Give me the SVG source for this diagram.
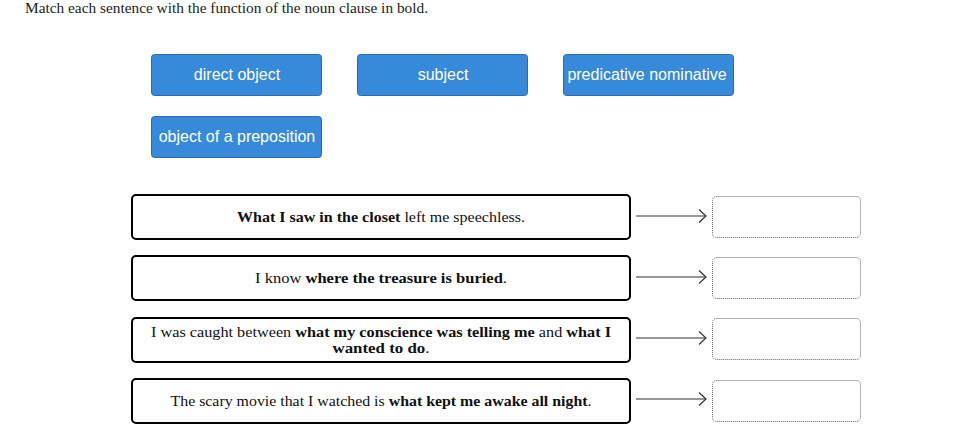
<svg xmlns="http://www.w3.org/2000/svg" width="965" height="436" viewBox="0 0 965 436">
<style>
.title{font-family:"Liberation Serif","DejaVu Serif",serif;font-size:15px;fill:#222}
.btn rect{fill:#368ad9;stroke:#2b6cb0;stroke-width:1}
.btn text{font-family:"Liberation Sans",Arial,sans-serif;font-size:16px;fill:#fff;text-anchor:middle}
.sent rect{fill:#fff;stroke:#000;stroke-width:2}
.sent text{font-family:"Liberation Serif","DejaVu Serif",serif;font-size:15.5px;fill:#111;text-anchor:middle}
.b{font-weight:bold}
.drop rect{fill:#fff;stroke:#666;stroke-width:1;stroke-dasharray:1 1}
.conn line,.conn polyline{stroke:#333;stroke-width:1.2;fill:none}
</style>
<rect width="965" height="436" fill="#fff"/>
<text class="title" x="25" y="13" textLength="403" lengthAdjust="spacingAndGlyphs">Match each sentence with the function of the noun clause in bold.</text>

<g id="btn-direct-object" class="btn"><rect x="151.5" y="54.5" width="170" height="41" rx="3"/><text x="237" y="79.5">direct object</text></g>
<g id="btn-subject" class="btn"><rect x="357.5" y="54.5" width="170" height="41" rx="3"/><text x="443" y="79.5">subject</text></g>
<g id="btn-predicative-nominative" class="btn"><rect x="563.5" y="54.5" width="170" height="41" rx="3"/><text x="647" y="79.5">predicative nominative</text></g>
<g id="btn-object-of-preposition" class="btn"><rect x="151.5" y="116.5" width="170" height="41" rx="3"/><text x="237" y="141.5">object of a preposition</text></g>

<g id="sentence-1" class="sent"><rect x="132" y="195" width="498" height="44" rx="4"/><text x="381" y="222" textLength="288" lengthAdjust="spacingAndGlyphs"><tspan class="b">What I saw in the closet</tspan> left me speechless.</text></g>
<g id="sentence-2" class="sent"><rect x="132" y="256" width="498" height="44" rx="4"/><text x="381" y="283" textLength="252" lengthAdjust="spacingAndGlyphs">I know <tspan class="b">where the treasure is buried</tspan>.</text></g>
<g id="sentence-3" class="sent"><rect x="132" y="318" width="498" height="44" rx="4"/><text x="381" y="337" textLength="460" lengthAdjust="spacingAndGlyphs">I was caught between <tspan class="b">what my conscience was telling me</tspan> and <tspan class="b">what I</tspan></text><text x="381" y="353" textLength="97" lengthAdjust="spacingAndGlyphs"><tspan class="b">wanted to do</tspan>.</text></g>
<g id="sentence-4" class="sent"><rect x="132" y="379" width="498" height="44" rx="4"/><text x="381" y="406" textLength="421" lengthAdjust="spacingAndGlyphs">The scary movie that I watched is <tspan class="b">what kept me awake all night</tspan>.</text></g>

<g id="drop-1" class="drop"><rect x="712.5" y="196.5" width="148" height="41" rx="4"/></g>
<g id="drop-2" class="drop"><rect x="712.5" y="257.5" width="148" height="41" rx="4"/></g>
<g id="drop-3" class="drop"><rect x="712.5" y="318.5" width="148" height="41" rx="4"/></g>
<g id="drop-4" class="drop"><rect x="712.5" y="380.5" width="148" height="41" rx="4"/></g>

<g id="connectors" class="conn">
<line x1="636" y1="216" x2="706" y2="216"/><polyline points="699,209.5 706,216 699,222.5"/>
<line x1="636" y1="277" x2="706" y2="277"/><polyline points="699,270.5 706,277 699,283.5"/>
<line x1="636" y1="338" x2="706" y2="338"/><polyline points="699,331.5 706,338 699,344.5"/>
<line x1="636" y1="399" x2="706" y2="399"/><polyline points="699,392.5 706,399 699,405.5"/>
</g>
</svg>
